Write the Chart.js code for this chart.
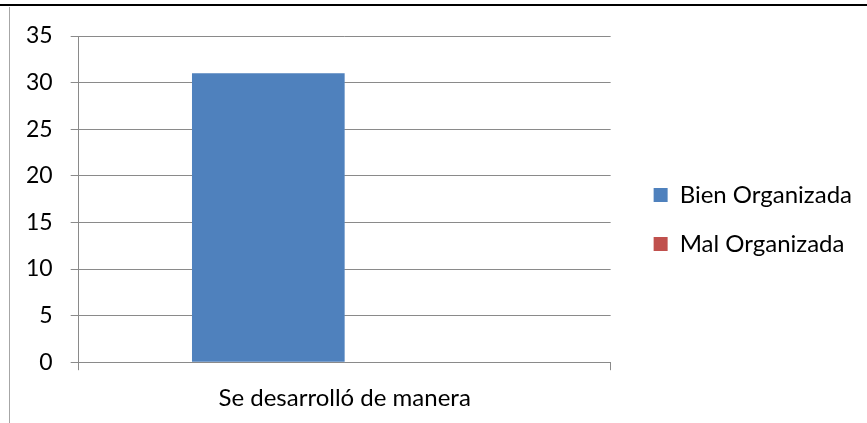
<!DOCTYPE html>
<html>
<head>
<meta charset="utf-8">
<script src="https://cdn.jsdelivr.net/npm/chart.js@4"></script>
<style>
  html, body { margin: 0; padding: 0; background: #fff; }
  #wrap { position: relative; width: 867px; height: 423px; overflow: hidden; }
  #top-line { position: absolute; left: 0; top: 4px; width: 867px; height: 2px; background: #000; }
  #left-line { position: absolute; left: 9px; top: 7px; width: 1px; height: 416px; background: #a6a6a6; }
  canvas { position: absolute; left: 0; top: 0; }
</style>
</head>
<body>
<div id="wrap">
  <canvas id="chart" width="867" height="423"></canvas>
  <div id="top-line"></div>
  <div id="left-line"></div>
</div>
<script>
// Data
const categories = ['Se desarrolló de manera'];
const seriesNames = ['Bien Organizada', 'Mal Organizada'];
const bienValues = [31];
const malValues = [0];
const yTicks = [0, 5, 10, 15, 20, 25, 30, 35];

const FONT = 'Lato, "Open Sans", sans-serif';
const GRID = '#8a8a8a';

// Legend: full width (no half-chart clamp), a gap from the plot, lifted a bit
const LEGEND_GAP = 18;
const LEGEND_LIFT = 12;
const legendGap = {
  id: 'legendGap',
  beforeInit(chart) {
    const lg = chart.legend;
    const fit = lg.fit;
    lg.fit = function () {
      fit.call(this);
      const col = this.columnSizes && this.columnSizes[0];
      if (col) this.width = col.width + this.options.labels.padding + 10 + LEGEND_GAP;
    };
  },
  afterLayout(chart) {
    chart.legend.left += LEGEND_GAP;
    chart.legend.top -= LEGEND_LIFT;
    chart.legend.bottom -= LEGEND_LIFT;
  }
};

new Chart(document.getElementById('chart'), {
  type: 'bar',
  data: {
    labels: categories,
    datasets: [
      { label: seriesNames[0], data: bienValues, backgroundColor: '#4f81bd' },
      { label: seriesNames[1], data: malValues, backgroundColor: '#c0504d' }
    ]
  },
  options: {
    responsive: false,
    animation: false,
    categoryPercentage: 0.574,
    barPercentage: 1,
    layout: { padding: { left: 8, top: 36, right: 5, bottom: -4 } },
    plugins: {
      tooltip: { enabled: false },
      legend: {
        position: 'right',
        labels: {
          color: '#000',
          font: { family: FONT, size: 24 },
          boxWidth: 14,
          boxHeight: 14,
          padding: 25
        }
      }
    },
    scales: {
      x: {
        grid: { offset: true, drawOnChartArea: false, drawTicks: true, tickLength: 8, color: GRID },
        border: { color: GRID },
        ticks: { color: '#000', font: { family: FONT, size: 24 }, padding: 14 }
      },
      y: {
        min: yTicks[0],
        max: yTicks[yTicks.length - 1],
        afterBuildTicks(axis) { axis.ticks = yTicks.map(v => ({ value: v })); },
        grid: { color: GRID, tickLength: 8 },
        border: { color: GRID },
        ticks: { color: '#000', font: { family: FONT, size: 23 }, padding: 18 }
      }
    }
  },
  plugins: [legendGap]
});
</script>
</body>
</html>
